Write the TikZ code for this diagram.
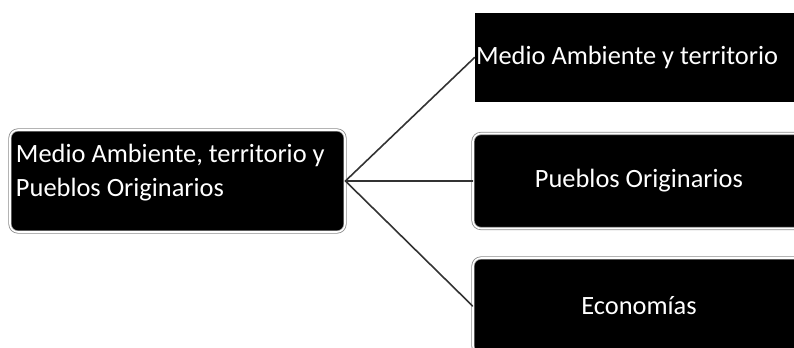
\documentclass[tikz,border=0pt]{standalone}
\usepackage{fontspec}
\setmainfont{Carlito}
\usepackage{tikz}
\usetikzlibrary{positioning}

\begin{document}
\begin{tikzpicture}[line cap=round,line join=round,x=0.5pt,y=0.5pt,
        blackbox/.style={rectangle,fill=black,text=white,inner sep=0pt,
            font=\fontsize{13.2}{17}\selectfont},
        framebox/.style={blackbox,draw=black!45,double=white,line width=0.4pt,
            double distance=0.8pt,rounded corners=4pt},
        boxtext/.style={text=white,inner sep=0pt,font=\fontsize{13.2}{17}\selectfont},
        link/.style={draw=black!80,line width=0.8pt}]
        \useasboundingbox (0,0) rectangle (794,348);
        \clip (0,0) rectangle (794,348);
        % boxes
        \node [framebox,minimum width=167.5pt,minimum height=51pt] (tema) at (177.5,167) {};
        \node [boxtext,anchor=north west,text width=165pt,align=flush left] (tematxt)
            at ([xshift=3pt,yshift=-7pt]tema.north west)
            {Medio Ambiente, territorio y\\Pueblos Originarios};
        \node [blackbox,minimum width=166pt,minimum height=44.5pt] (ambiente) at (641,290.5) {};
        \node [boxtext,anchor=west] (ambientetxt) at ([xshift=0.5pt]ambiente.west)
            {Medio Ambiente y territorio};
        \node [framebox,minimum width=166pt,minimum height=47.5pt] (pueblos) at (639,167)
            {Pueblos Originarios};
        \node [framebox,minimum width=166pt,minimum height=48pt] (economias) at (639,42)
            {Economías};
        % links
        \draw [link] (tema.east) -- (ambiente.west);
        \draw [link] (tema.east) -- (pueblos.west);
        \draw [link] (tema.east) -- (economias.west);
\end{tikzpicture}
\end{document}
